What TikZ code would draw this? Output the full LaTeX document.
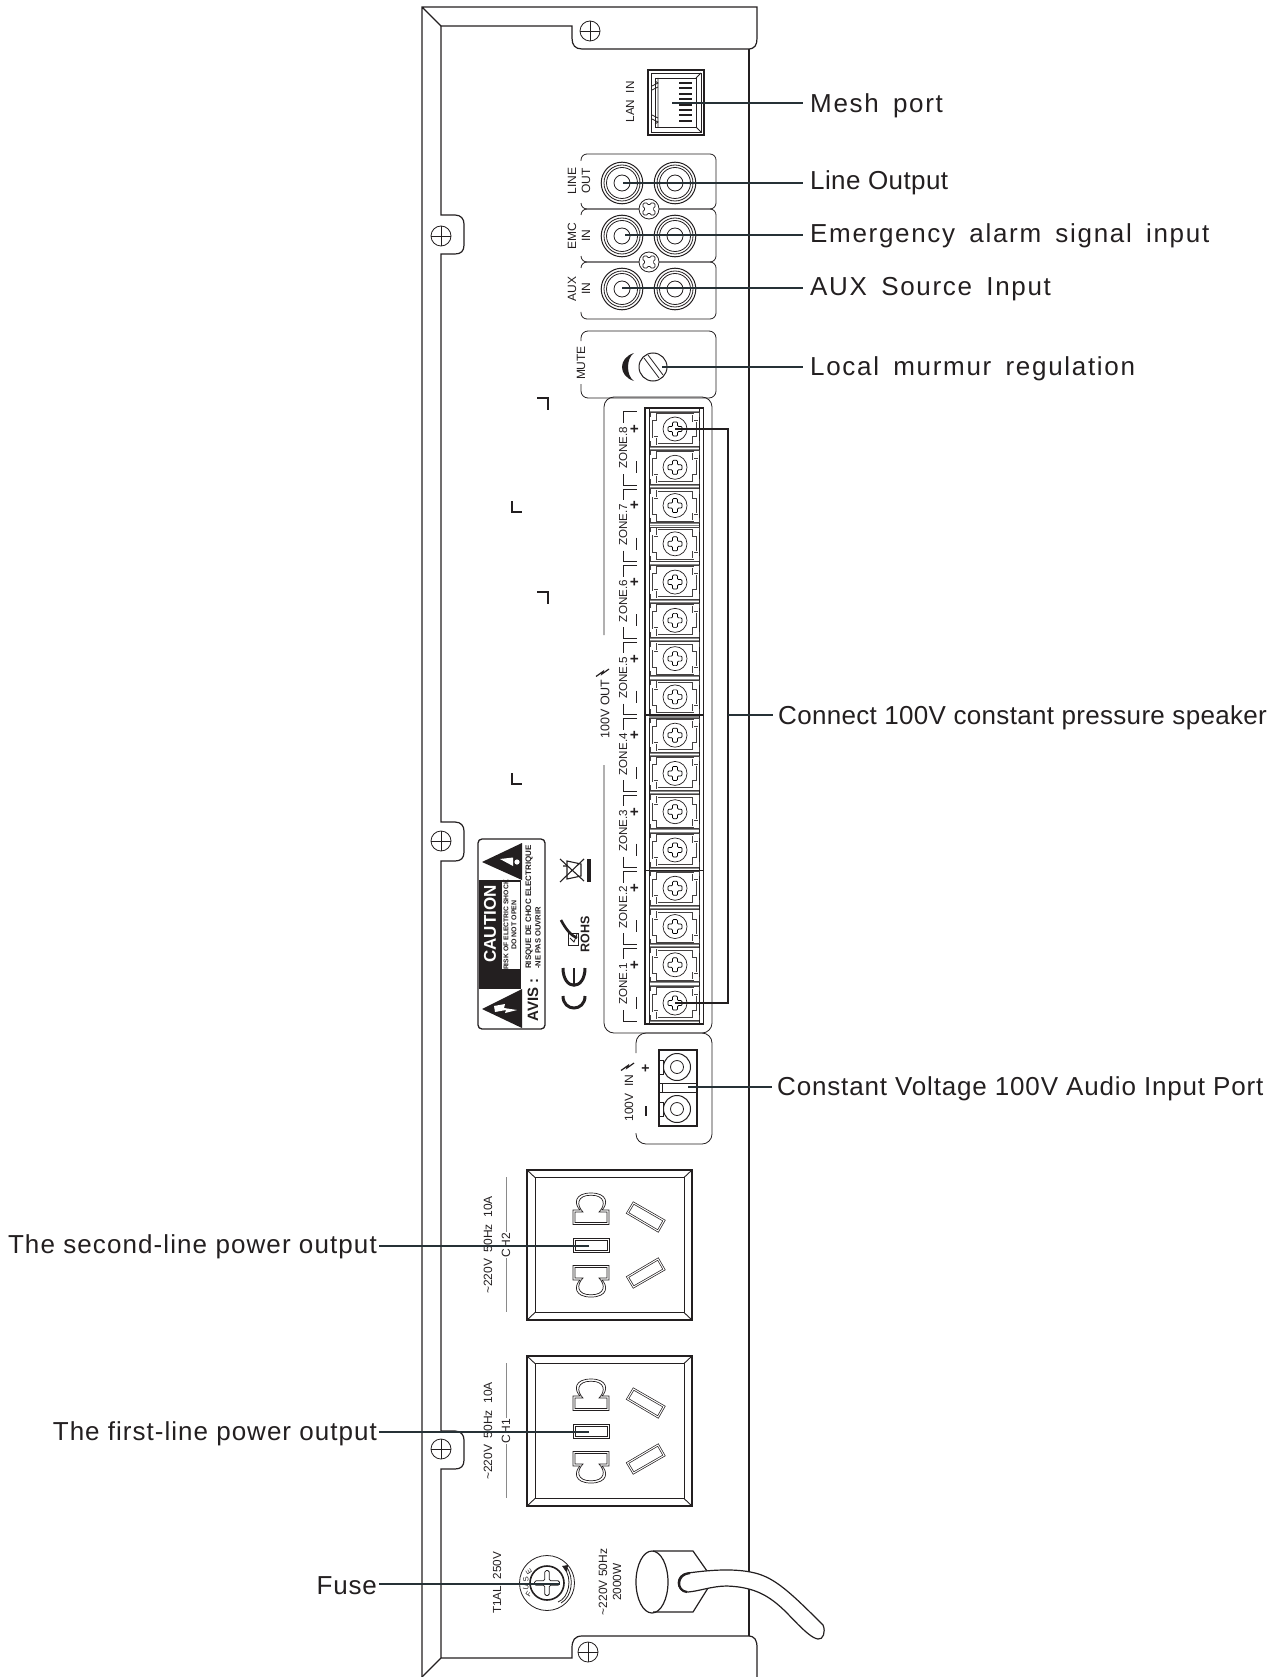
\documentclass[tikz,border=0pt]{standalone}
\usepackage{fontspec}
\setmainfont{Liberation Sans}
\definecolor{ink}{HTML}{231F20}
\definecolor{wirecol}{HTML}{263136}
\definecolor{pale}{HTML}{8A8A8A}
\newcommand\fs[1]{\fontsize{#1}{#1}\selectfont}
\newcommand\lblfont[3]{\fs{#1}\addfontfeatures{LetterSpace=#2}\spaceskip=#3\fontdimen2\font\relax}
\newcommand\plusmark{\draw[fill=white,rounded corners=1pt,line width=.7pt] (-2.5,-7)--(2.5,-7)--(2.5,-2.5)--(7,-2.5)--(7,2.5)--(2.5,2.5)--(2.5,7)--(-2.5,7)--(-2.5,2.5)--(-7,2.5)--(-7,-2.5)--(-2.5,-2.5)--cycle;}
\newcommand\boltmark{\draw[line width=1.2pt,draw=ink] (0,7.5)--(7,2.5)--(6,5)--(13,0);}
\newcommand\domeshape{
  \draw[socketline] (-18,-20.5)--(18,-20.5)--(18,-35)--(11,-35) .. controls (17,-41) and (17,-52) .. (0,-52) .. controls (-17,-52) and (-17,-41) .. (-11,-35)--(-18,-35)--cycle;
  \draw[socketline] (-16,-22.5)--(16,-22.5)--(16,-33)--(8,-33) .. controls (15,-40) and (14,-49.8) .. (0,-49.8) .. controls (-14,-49.8) and (-15,-40) .. (-8,-33)--(-16,-33)--cycle;
}
\tikzset{
  plate/.style={line width=1.2pt,draw=ink},
  thin line/.style={line width=.8pt,draw=ink},
  socketline/.style={line width=.7pt,draw=ink},
  dbl/.style={draw=ink,line width=.7pt,double=white,double distance=1pt},
  dblcell/.style={draw=ink!85,line width=.55pt,double=white,double distance=.9pt},
  wire/.style={line width=2.6pt,draw=wirecol},
  vt/.style={rotate=90,inner sep=0pt,text=ink,font=\fs{#1}},
  vtb/.style={rotate=90,inner sep=0pt,text=ink,font=\fs{#1}\bfseries},
  rlabel/.style={anchor=base west,inner xsep=7pt,inner ysep=0pt,text=ink},
  mlabel/.style={anchor=base west,inner xsep=5pt,inner ysep=0pt,text=ink},
  llabel/.style={anchor=base east,inner xsep=2pt,inner ysep=0pt,text=ink}
}
\begin{document}
\begin{tikzpicture}[x=1pt,y=-1pt,line cap=butt]
\useasboundingbox (0,0) rectangle (1285,1677);
% ---- chassis
\draw[plate] (422,1677)--(422,7)--(757,7)--(757,38) .. controls (757,45) and (755,49) .. (748,49)--(582,49) .. controls (575,49) and (572,45) .. (572,38)--(572,26)--(441,26)--(422,7);
\draw[plate] (441,26)--(441,215)--(455,215) .. controls (461,215) and (464,219) .. (464,224)--(464,245) .. controls (464,251) and (461,254) .. (455,254)--(441,254)
  --(441,822)--(455,822) .. controls (461,822) and (464,826) .. (464,831)--(464,852) .. controls (464,858) and (461,861) .. (455,861)--(441,861)
  --(441,1431)--(455,1431) .. controls (461,1431) and (464,1435) .. (464,1440)--(464,1460) .. controls (464,1466) and (461,1469) .. (455,1469)--(441,1469)
  --(441,1658)--(572,1658)--(572,1648) .. controls (572,1640) and (575,1636) .. (582,1636)--(748,1636) .. controls (755,1636) and (757,1640) .. (757,1648)--(757,1677);
\draw[plate] (441,1658)--(422,1677);
\draw[plate] (749,49)--(749,1636);
\foreach \sx/\sy in {590/31,441/236,441/841,441/1449,588/1652}{
  \draw[thin line] (\sx,\sy) circle[radius=10];
  \draw[thin line] (\sx-10,\sy)--(\sx+10,\sy) (\sx,\sy-10)--(\sx,\sy+10);
}
% corner marks
\draw[plate] (537,398)--(548,398)--(548,410);
\draw[plate] (512,501)--(512,512)--(522,512);
\draw[plate] (537,592)--(548,592)--(548,604);
\draw[plate] (512,773)--(512,784)--(522,784);
% ---- LAN jack
\draw[line width=1.6pt,draw=ink] (648,70) rectangle (704,135);
\draw[thin line] (651,73) rectangle (701,132);
\draw[thin line] (655,78)--(696,78)--(696,127)--(655,127)--cycle;
\draw[thin line] (701,73)--(696,78) (701,132)--(696,127) (658,78)--(658,127);
\draw[thin line] (652,86)--(658,83)--(655,81) (652,90)--(658,87) (652,119)--(658,122)--(655,124) (652,115)--(658,118);
\foreach \i in {0,...,7}{\fill[ink] (679,{83+5.4*\i-1}) rectangle (692,{83+5.4*\i+1});}
\node[vt=11.7] (lanText) at (630,102) {LAN\ \ IN};
% ---- RCA panels
\draw[thin line,rounded corners=6pt] (581,161)--(581,154)--(716,154)--(716,209)--(581,209)--(581,203);
\draw[thin line,rounded corners=6pt] (581,215)--(581,209)--(716,209)--(716,262)--(581,262)--(581,256);
\draw[thin line,rounded corners=6pt] (581,268)--(581,262)--(716,262)--(716,319)--(581,319)--(581,312);
\foreach \ry in {183,236,289}{\foreach \rx in {622,675}{
  \draw[line width=1pt,draw=ink] (\rx,\ry) circle[radius=20.8];
  \draw[line width=.8pt,draw=ink] (\rx,\ry) circle[radius=18];
  \draw[line width=.8pt,draw=ink] (\rx,\ry) circle[radius=15.5];
  \draw[line width=.8pt,draw=ink] (\rx,\ry) circle[radius=8];
}}
\foreach \cy in {209,262}{
  \begin{scope}[shift={(649,\cy)}]
  \draw[thin line,fill=white] (0,0) circle[radius=10];
  \begin{scope}[rotate=45]
  \draw[fill=white,rounded corners=1.5pt,line width=.7pt,draw=ink] (-2.5,-7.5)--(2.5,-7.5)--(2.5,-2.5)--(7.5,-2.5)--(7.5,2.5)--(2.5,2.5)--(2.5,7.5)--(-2.5,7.5)--(-2.5,2.5)--(-7.5,2.5)--(-7.5,-2.5)--(-2.5,-2.5)--cycle;
  \end{scope}
  \end{scope}
}
\node[vt=12] (lineA) at (572,181) {LINE};
\node[vt=12] (lineB) at (586,181) {OUT};
\node[vt=12] (emcA) at (572,236) {EMC};
\node[vt=12] (emcB) at (586,236) {IN};
\node[vt=12] (auxA) at (572,289) {AUX};
\node[vt=12] (auxB) at (586,289) {IN};
% ---- mute
\draw[thin line,rounded corners=7pt] (581,341)--(581,331)--(716,331)--(716,398)--(581,398)--(581,384);
\node[vt=12] (muteText) at (581,363) {MUTE};
\fill[ink] (634,353) .. controls (618,358) and (618,376) .. (634,381) .. controls (626,376) and (626,358) .. (634,353);
\draw[line width=1pt,draw=ink] (653,367) circle[radius=14];
\draw[thin line] (644,358)--(659,378) (648,355)--(663,375);
% ---- zone panel
\draw[thin line,rounded corners=10pt] (604,635)--(604,397)--(712,397)--(712,1033)--(604,1033)--(604,765);
\draw[line width=1.6pt,draw=ink] (645,408) rectangle (703.5,1024);
\draw[thin line] (649,408)--(649,1024) (699,408)--(699,1024);
\foreach \k in {0,...,15}{
  \pgfmathsetmacro\cy{429+38.27*\k}
  \begin{scope}[shift={(675,\cy)}]
  \draw[draw=pale,line width=.7pt] (-25,-18)--(24,-18) (-25,18)--(24,18);
  \draw[draw=ink!85,line width=.6pt] (-25,-17)--(24,-17) (-25,17)--(24,17) (-25,-17)--(-25,-12) (24,-17)--(24,-12) (-25,17)--(-25,12) (24,17)--(24,12);
  \draw[dblcell] (-18,-15)--(18,-15)--(18,-8)--(22,-8)--(22,8)--(18,8)--(18,15)--(-18,15)--(-18,8)--(-22,8)--(-22,-8)--(-18,-8)--cycle;
  \draw[line width=.7pt,draw=ink,fill=white] (0,0) circle[radius=12];
  \plusmark
  \end{scope}
}
\draw[line width=1.6pt,draw=ink] (645,715)--(703.5,715);
\fill[pale] (649,716) rectangle (699,718);
\draw[line width=1pt,draw=ink] (645,870)--(703.5,870);
% zone labels
\foreach \n in {1,...,8}{
  \pgfmathsetmacro\zy{448+(8-\n)*76.54}
  \node[vt=11.6] (zone\n) at (623,\zy) {ZONE.\n};
  \node[vtb=15] (plus\n) at (635,{\zy-19}) {+};
  \draw[line width=1.1pt,draw=ink] (636.5,{\zy+13})--(636.5,{\zy+25});
}
\foreach \n in {1,...,7}{
  \pgfmathsetmacro\by{448+(8-\n)*76.54-37.5}
  \draw[thin line] (623,\by-13)--(623,\by-2)--(637,\by-2) (637,\by+2)--(623,\by+2)--(623,\by+13);
}
\draw[thin line] (623,423)--(623,411)--(637,411);
\draw[thin line] (623,1010)--(623,1021)--(637,1021);
\node[vt=12.5] (outText) at (605,709) {100V OUT};
\begin{scope}[shift={(596,669)}]\boltmark\end{scope}
% ---- 100V in
\draw[thin line,rounded corners=10pt] (636,1053)--(636,1033)--(712,1033)--(712,1144)--(636,1144)--(636,1133);
\draw[line width=1.1pt,draw=ink] (659,1050) rectangle (697,1126);
\foreach \iy in {1067,1109}{
  \draw[line width=1pt,draw=ink] (677,\iy) circle[radius=13.5];
  \draw[thin line] (677,\iy) circle[radius=6.5];
  \draw[thin line,fill=white] (659,\iy-7) rectangle (663,\iy+7);
}
\draw[thin line] (659,1083) rectangle (697,1092) (662,1083)--(662,1092);
\node[vt=12] (inText) at (629,1098) {100V\ \ IN};
\begin{scope}[shift={(621,1063)}]\boltmark\end{scope}
\node[vtb=14] (inPlus) at (646,1068) {+};
\draw[line width=1.1pt,draw=ink] (646,1106)--(646,1116);
% ---- caution label
\draw[line width=1.3pt,draw=ink,rounded corners=4pt] (478,839) rectangle (545,1029);
\fill[ink] (482,862)--(522,843)--(522,880)--cycle;
\fill[ink] (482,1009)--(522,989)--(522,1028)--cycle;
\fill[ink] (479,880) rectangle (521,989);
\fill[white] (502,881.5) rectangle (520,969);
\fill[white] (500,859)--(513,857.5)--(513,866)--cycle;
\fill[white] (517,862) circle[radius=2.6];
\fill[white] (494,1006)--(505,1004)--(504,1008)--(517,1010)--(505,1013)--(506,1010)--(495,1012)--cycle;
\node[vtb=17,text=white] (cautionText) at (490,924) {CAUTION};
\node[vtb=6.8] (riskText) at (506,925) {RISK OF ELECTRIC SHOCK};
\node[vtb=7] (openText) at (514,925) {DO NOT OPEN};
\node[vtb=15] (avisText) at (533,1000) {AVIS :};
\node[vtb=8] (risqueText) at (529,907) {RISQUE DE CHOC ELECTRIQUE};
\node[vtb=7.6] (neText) at (538,938) {-NE PAS OUVRIR};
% CE
\draw[line width=3pt,draw=ink] (563,996) .. controls (563,1012) and (585,1012) .. (585,996);
\draw[line width=3pt,draw=ink] (563,968) .. controls (563,991) and (585,991) .. (585,968);
\draw[line width=2.4pt,draw=ink] (574,968)--(574,984);
% RoHS
\node[vtb=12.5] (rohsText) at (585,934) {ROHS};
\draw[line width=2.6pt,draw=ink] (561,920) .. controls (566,930) and (572,936) .. (577,938);
\draw[thin line] (568,933) rectangle (578,945);
\draw[thin line] (570,938)--(574,942)--(577,934);
% WEEE
\fill[ink] (587,859) rectangle (590.5,882);
\draw[line width=1.1pt,draw=ink] (567,861)--(581,864)--(581,876)--(567,879)--cycle (563,866)--(567,866);
\draw[line width=1.1pt,draw=ink] (560,859)--(584,881) (560,882)--(584,859);
% ---- sockets
\foreach \yo/\ch in {0/CH2,186/CH1}{
\begin{scope}[shift={(0,\yo)}]
  \draw[plate] (527,1170) rectangle (692,1320);
  \draw[line width=.9pt,draw=ink] (535,1177.5) rectangle (684,1312.5);
  \draw[line width=.9pt,draw=ink] (527,1170)--(535,1177.5) (692,1170)--(684,1177.5) (527,1320)--(535,1312.5) (692,1320)--(684,1312.5);
  \draw[socketline] (573,1238) rectangle (609,1252) (575,1240) rectangle (607,1250);
  \begin{scope}[shift={(591,1245)}]
    \domeshape
    \begin{scope}[yscale=-1]\domeshape\end{scope}
  \end{scope}
  \draw[dbl] (627.5,1213)--(633.5,1203)--(664,1220.5)--(658,1231)--cycle;
  \draw[dbl] (627.5,1277)--(633.5,1287)--(664,1269.5)--(658,1259)--cycle;
  \node[vt=12] (rating\ch) at (488,1245) {\textasciitilde 220V\ \ 50Hz\ \ 10A};
  \node[vt=12] (name\ch) at (506,1245) {\ch};
  \draw[line width=.9pt,draw=pale] (506,1177)--(506,1232) (506,1258)--(506,1312);
\end{scope}
}
% ---- fuse
\draw[thin line] (547,1583) circle[radius=27.5];
\draw[line width=1.6pt,draw=ink] (547,1583) circle[radius=17];
\begin{scope}[shift={(547,1583)}]
\draw[fill=white,rounded corners=1.5pt,line width=.8pt,draw=ink] (-2.2,-12.5)--(2.2,-12.5)--(2.2,-2.2)--(12.5,-2.2)--(12.5,2.2)--(2.2,2.2)--(2.2,12.5)--(-2.2,12.5)--(-2.2,2.2)--(-12.5,2.2)--(-12.5,-2.2)--(-2.2,-2.2)--cycle;
\draw[thin line] (11,19) .. controls (22,15) and (26,-5) .. (17,-15);
\draw[thin line] (14,20) .. controls (25,14) and (28,-5) .. (19,-17);
\fill[ink] (15,-17)--(21,-18)--(20,-11)--cycle;
\end{scope}
\foreach \ltr/\a in {F/212,U/192,S/170,E/148}{
  \node[rotate=270-\a,inner sep=0pt,font=\fs{7.5},text=ink] (fuse\ltr) at ({547+21.5*cos(\a)},{1583-21.5*sin(\a)}) {\ltr};
}
\node[vt=11.7] (t1alText) at (497,1583) {T1AL\ \ 250V};
\node[vt=12] (acText) at (603,1582) {\textasciitilde 220V 50Hz};
\node[vt=11.8] (wattText) at (617,1582) {2000W};
% ---- power cord
\draw[plate] (652,1582) ellipse[x radius=16,y radius=31];
\draw[plate] (653,1551)--(693,1551)--(707,1571) (653,1612)--(693,1612)--(708,1588);
\draw[plate,fill=white] (688,1573) .. controls (710,1570) and (735,1568) .. (755,1573) .. controls (775,1578) and (790,1592) .. (823,1625)
  .. controls (826,1632) and (823,1640) .. (818,1639) .. controls (812,1638) and (805,1632) .. (787,1613)
  .. controls (770,1596) and (755,1587) .. (727,1586) .. controls (712,1586) and (700,1591) .. (688,1592)
  .. controls (675,1592) and (675,1574) .. (688,1573);
\draw[line width=2.2pt,draw=ink] (690,1573) .. controls (676,1574) and (676,1591) .. (687,1592);
% ---- connectors and labels
\coordinate (portMesh) at (672,103);
\coordinate (portLine) at (623,183);
\coordinate (portEmc) at (625,235);
\coordinate (portAux) at (622,288);
\coordinate (portMute) at (662,367);
\coordinate (zoneTop) at (675,429);
\coordinate (zoneBot) at (675,1003);
\coordinate (zoneA) at (728,429);
\coordinate (zoneB) at (728,1003);
\coordinate (zoneMid) at (728,715);
\coordinate (portIn) at (688,1087);
\coordinate (portCh2) at (589,1246);
\coordinate (portCh1) at (589,1432);
\coordinate (portFuse) at (560,1584);
\node[rlabel,font=\lblfont{26}{6.5}{1.6}] (lMesh) at (803,113) {Mesh port};
\node[rlabel,font=\lblfont{26}{1.5}{1}] (lLine) at (803,190) {Line Output};
\node[rlabel,font=\lblfont{26}{6.5}{1.6}] (lEmc) at (803,243) {Emergency alarm signal input};
\node[rlabel,font=\lblfont{26}{6.5}{1.6}] (lAux) at (803,296) {AUX Source Input};
\node[rlabel,font=\lblfont{26}{6.5}{1.6}] (lMute) at (803,375) {Local murmur regulation};
\node[mlabel,font=\lblfont{26}{1.2}{1}] (lZone) at (773,724) {Connect 100V constant pressure speaker};
\node[mlabel,font=\lblfont{26}{3.2}{1}] (lIn) at (772,1095) {Constant Voltage 100V Audio Input Port};
\node[llabel,font=\lblfont{26}{4.2}{1}] (lCh2) at (379,1253) {The second-line power output};
\node[llabel,font=\lblfont{26}{3.9}{1}] (lCh1) at (379,1440) {The first-line power output};
\node[llabel,font=\lblfont{26}{3}{1}] (lFuse) at (379,1594) {Fuse};
\draw[wire] (portMesh)--(portMesh -| lMesh.west);
\draw[wire] (portLine)--(portLine -| lLine.west);
\draw[wire] (portEmc)--(portEmc -| lEmc.west);
\draw[wire] (portAux)--(portAux -| lAux.west);
\draw[wire] (portMute)--(portMute -| lMute.west);
\draw[line width=2.8pt,draw=ink] (zoneTop)--(zoneA)--(zoneB)--(zoneBot);
\draw[wire] (zoneMid)--(zoneMid -| lZone.west);
\draw[wire] (portIn)--(portIn -| lIn.west);
\draw[wire] (portCh2)--(portCh2 -| lCh2.east);
\draw[wire] (portCh1)--(portCh1 -| lCh1.east);
\draw[wire] (portFuse)--(portFuse -| lFuse.east);
\end{tikzpicture}
\end{document}
